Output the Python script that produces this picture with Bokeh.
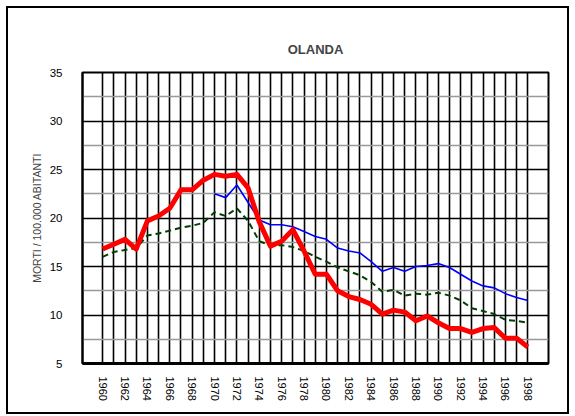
from bokeh.plotting import figure
from bokeh.layouts import column
from bokeh.models import FixedTicker, Range1d
from bokeh.embed import file_html
from bokeh.resources import INLINE

years = list(range(1960, 1999))
red_values = [16.8, 17.3, 17.8, 16.8, 19.7, 20.2, 21.0, 22.9, 22.9, 23.9,
              24.5, 24.3, 24.5, 23.1, 19.6, 17.1, 17.6, 18.8, 16.6, 14.2,
              14.2, 12.5, 11.9, 11.6, 11.1, 10.1, 10.5, 10.3, 9.4, 9.9,
              9.2, 8.6, 8.6, 8.2, 8.6, 8.7, 7.6, 7.6, 6.7]
green_values = [16.0, 16.5, 16.7, 16.9, 18.2, 18.4, 18.7, 19.0, 19.2, 19.5,
                20.6, 20.2, 21.0, 19.7, 17.6, 17.2, 17.2, 17.0, 16.6, 16.0,
                15.5, 14.9, 14.5, 14.1, 13.4, 12.4, 12.6, 12.0, 12.2, 12.1,
                12.3, 12.0, 11.5, 10.7, 10.4, 10.1, 9.5, 9.4, 9.2]
blue_years = list(range(1970, 1999))
blue_values = [22.5, 22.1, 23.4, 21.6, 19.8, 19.3, 19.3, 19.1, 18.6, 18.1,
               17.8, 16.9, 16.6, 16.4, 15.5, 14.5, 14.9, 14.5, 15.0, 15.1,
               15.3, 14.9, 14.2, 13.5, 13.0, 12.8, 12.2, 11.8, 11.5]
y_ticks = [5, 10, 15, 20, 25, 30, 35]
y_minor = [7.5, 12.5, 17.5, 22.5, 27.5, 32.5]
x_labels = list(range(1960, 1999, 2))

FONT = "Liberation Sans"

p = figure(width=559, height=404, output_backend="svg", toolbar_location=None,
           x_range=Range1d(1958.2, 1999.85), y_range=Range1d(5, 35),
           title="OLANDA",
           min_border_left=74, min_border_right=19, min_border_top=64,
           min_border_bottom=49)

p.title.align = "center"
p.title.text_font = FONT
p.title.text_font_size = "13px"
p.title.text_font_style = "bold"
p.title.standoff = 32

p.outline_line_color = "black"
p.outline_line_width = 2

# grids
p.xgrid.ticker = FixedTicker(ticks=years)
p.xgrid.grid_line_color = "black"
p.xgrid.grid_line_width = 1.6
p.ygrid.ticker = FixedTicker(ticks=[10, 15, 20, 25, 30], minor_ticks=y_minor)
p.ygrid.grid_line_color = "black"
p.ygrid.grid_line_width = 1.6
p.ygrid.minor_grid_line_color = "#999999"
p.ygrid.minor_grid_line_width = 1.6

# axes
for ax in (p.xaxis[0], p.yaxis[0]):
    ax.major_tick_line_color = None
    ax.minor_tick_line_color = None
    ax.major_label_text_font = FONT
    ax.major_label_text_color = "black"
    ax.axis_line_color = "black"

p.xaxis.ticker = FixedTicker(ticks=x_labels)
p.xaxis.major_label_orientation = "vertical"
p.xaxis.major_label_standoff = 7
p.xaxis.major_label_text_font_size = "11px"
p.xaxis.axis_line_width = 3

p.yaxis.ticker = FixedTicker(ticks=y_ticks)
p.yaxis.major_label_standoff = 14
p.yaxis.major_label_text_font_size = "11.5px"
p.yaxis.axis_line_width = 2
p.yaxis.axis_label = "MORTI / 100.000 ABITANTI"
p.yaxis.axis_label_text_font = FONT
p.yaxis.axis_label_text_font_size = "10.5px"
p.yaxis.axis_label_text_font_style = "normal"
p.yaxis.axis_label_standoff = 4

p.line(years, green_values, line_color="#004000", line_width=2, line_dash="6 4")
p.line(blue_years, blue_values, line_color="#0000FF", line_width=1.6)
p.line(years, red_values, line_color="#FF0000", line_width=5, line_join="round")

layout = column(p, styles={"border": "2px solid black",
                           "margin-left": "6px", "margin-top": "6px"})

open("out.html", "w").write(file_html(layout, INLINE))
